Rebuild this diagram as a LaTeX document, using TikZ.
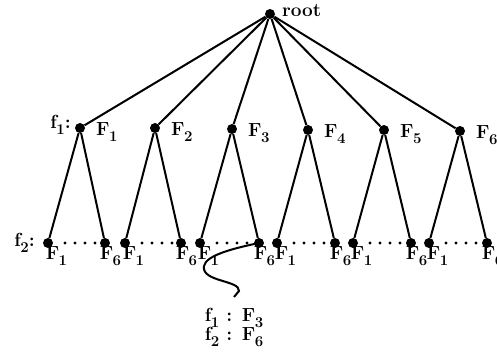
\documentclass[tikz,border=0pt]{standalone}
% letter with a large, lowered index
\newcommand\Idx[2]{#1\kern-0.5pt\raisebox{-5.5pt}{\fontsize{15}{15}\selectfont #2}}
\begin{document}
\begin{tikzpicture}[x=1pt,y=-1pt,
    vert/.style={circle,fill=black,inner sep=0pt,minimum size=10pt},
    edge/.style={line width=2pt},
    lab/.style={inner sep=0pt,font=\fontsize{19}{20}\selectfont\bfseries},
    dotrow/.style={line width=3.2pt,line cap=round,dash pattern=on 0pt off 10pt}]
  \useasboundingbox (0,0) rectangle (497,352);

  % root
  \node[vert] (root) at (270,14) {};
  \node[lab,anchor=west] (rootlab) at (282,11) {root};

  % first level
  \foreach \i/\x/\y in {1/80/128,2/155/128,3/232/129,4/308/130,5/384/130,6/460/131}{
    \node[vert] (a\i) at (\x,\y) {};
    \node[lab,anchor=west] (al\i) at (\x+16,\y+4) {\Idx{F}{\i}};
    \draw[edge] (root) -- (a\i);
  }
  \node[lab,anchor=east] (f1) at (71,125) {\Idx{f}{1}:};

  % second level
  \foreach \i/\xl/\xr in {1/48/105,2/125/181,3/200/259,4/277/335,5/353/411,6/429/487}{
    \node[vert] (b\i l) at (\xl,243) {};
    \node[vert] (b\i r) at (\xr,243) {};
    \draw[edge] (a\i) -- (b\i l);
    \draw[edge] (a\i) -- (b\i r);
    \draw[dotrow] ([xshift=17pt]b\i l.center) -- ([xshift=-6pt]b\i r.center);
    \node[lab] (bl\i l) at (\xl+8.5,256) {\Idx{F}{1}};
    \node[lab] (bl\i r) at (\xr+5.5,256) {\Idx{F}{6}};
  }
  \node[lab,anchor=east] (f2) at (35,243) {\Idx{f}{2}:};

  % pointer to one leaf and its description
  \node[lab] (d1) at (234,318) {\Idx{f}{1} : \Idx{F}{3}};
  \node[lab] (d2) at (234,337) {\Idx{f}{2} : \Idx{F}{6}};
  \coordinate (hook) at (234,297);
  \draw[edge] (b3r.center) .. controls (235,248) and (206,255) .. (204,266)
    .. controls (201,282) and (240,280) .. (239,291) -- (hook);
\end{tikzpicture}
\end{document}
